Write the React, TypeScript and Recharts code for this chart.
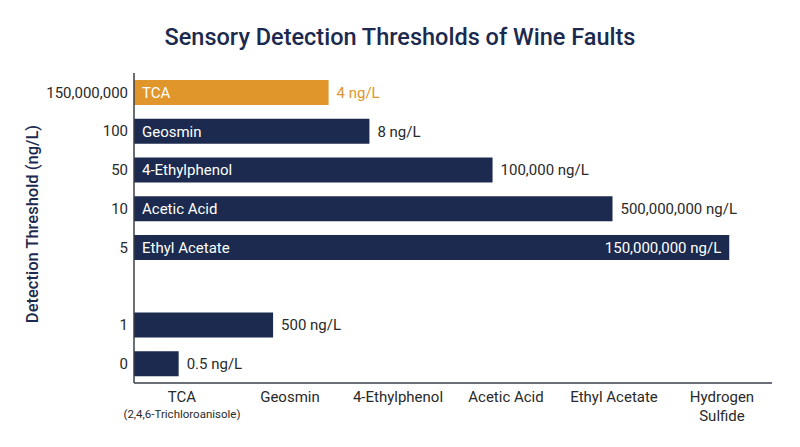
import React from "react";
import { BarChart, Bar, XAxis, YAxis, Cell, LabelList, Label } from "recharts";

// rows, top to bottom
const rowTicks = ["150,000,000", "100", "50", "10", "5", "", "1", "0"];
const barNames = ["TCA", "Geosmin", "4-Ethylphenol", "Acetic Acid", "Ethyl Acetate", "", "", ""];
const barLengths = [30.5, 36.9, 56.2, 75.0, 93.3, null, 21.8, 7.0];
const valueLabels = ["4 ng/L", "8 ng/L", "100,000 ng/L", "500,000,000 ng/L", "150,000,000 ng/L", "", "500 ng/L", "0.5 ng/L"];
const valueInside = [false, false, false, false, true, false, false, false];

// bottom axis labels
const faultNames = ["TCA", "Geosmin", "4-Ethylphenol", "Acetic Acid", "Ethyl Acetate", "Hydrogen"];
const faultSubNames = ["(2,4,6-Trichloroanisole)", "", "", "", "", "Sulfide"];
const faultTicks = [0.5, 1.5, 2.5, 3.5, 4.5, 5.5];

const NAVY = "#1b2a4e";
const ORANGE = "#e0962a";
const TEXT = "#2a2a2a";
const FONT = "Roboto, 'Noto Sans', sans-serif";

const data = rowTicks.map((tick, i) => ({
  tick,
  name: barNames[i],
  length: barLengths[i],
  valueLabel: valueLabels[i],
}));

const ValueLabel = (props: any) => {
  const { x, y, width, height, value } = props;
  if (!value) return null;
  const i = valueLabels.indexOf(value);
  const inside = valueInside[i];
  return (
    <text
      x={inside ? x + width - 8 : x + width + 8}
      y={y + height / 2}
      dy="0.35em"
      textAnchor={inside ? "end" : "start"}
      fill={inside ? "#fff" : i === 0 ? ORANGE : TEXT}
      fontSize={15}
      fontFamily={FONT}
    >
      {value}
    </text>
  );
};

const FaultTick = (props: any) => {
  const { x, y, index } = props;
  const sub = faultSubNames[index];
  const isSmall = index === 0;
  return (
    <g transform={`translate(${x},${y})`}>
      <text x={0} y={6} dy="0.35em" textAnchor="middle" fill={TEXT} fontSize={15} fontFamily={FONT}>
        {faultNames[index]}
      </text>
      {sub && (
        <text
          x={0}
          y={isSmall ? 23 : 25}
          dy="0.35em"
          textAnchor="middle"
          fill={TEXT}
          fontSize={isSmall ? 11.5 : 15}
          fontFamily={FONT}
        >
          {sub}
        </text>
      )}
    </g>
  );
};

export default function App() {
  return (
    <div style={{ position: "absolute", left: 0, top: 0, width: 800, height: 447, background: "#fff" }}>
      <div
        style={{
          position: "absolute",
          top: 22,
          left: 0,
          width: 800,
          textAlign: "center",
          fontFamily: FONT,
          fontSize: 23.5,
          fontWeight: 500,
          color: NAVY,
          lineHeight: "30px",
        }}
      >
        Sensory Detection Thresholds of Wine Faults
      </div>
      <BarChart
        width={800}
        height={447}
        data={data}
        layout="vertical"
        margin={{ top: 73, right: 28, bottom: 9, left: 8 }}
      >
        <XAxis xAxisId="len" type="number" domain={[0, 100]} hide />
        <XAxis
          xAxisId="cat"
          type="number"
          domain={[0.056, 5.963]}
          allowDataOverflow
          ticks={faultTicks}
          interval={0}
          tickLine={false}
          axisLine={{ stroke: "#3a3f4a", strokeWidth: 1.5 }}
          height={55}
          tick={<FaultTick />}
        />
        <YAxis
          dataKey="tick"
          type="category"
          width={126}
          tickLine={false}
          axisLine={{ stroke: "#3a3f4a", strokeWidth: 1.5 }}
          tick={{ fill: TEXT, fontSize: 15, fontFamily: FONT }}
          tickMargin={0}
          interval={0}
        >
          <Label
            content={() => (
              <text
                x={32}
                y={224}
                transform="rotate(-90 32 224)"
                textAnchor="middle"
                dominantBaseline="central"
                fill={NAVY}
                fontSize={16.5}
                fontWeight={500}
                fontFamily={FONT}
              >
                Detection Threshold (ng/L)
              </text>
            )}
          />
        </YAxis>
        <Bar dataKey="length" xAxisId="len" barSize={25} isAnimationActive={false}>
          {data.map((_, i) => (
            <Cell key={i} fill={i === 0 ? ORANGE : NAVY} />
          ))}
          <LabelList
            dataKey="name"
            position="insideLeft"
            offset={8}
            fill="#fff"
            fontSize={15}
            fontWeight={400}
            fontFamily={FONT}
          />
          <LabelList dataKey="valueLabel" content={<ValueLabel />} />
        </Bar>
      </BarChart>
    </div>
  );
}
